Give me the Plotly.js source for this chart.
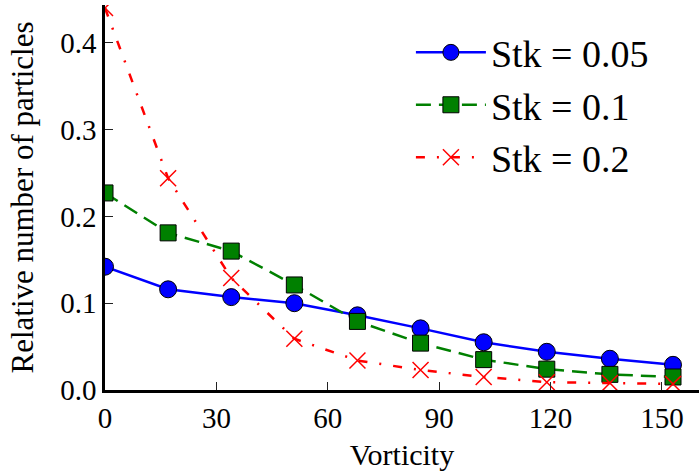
<!DOCTYPE html>
<html>
<head>
<meta charset="utf-8">
<script src="https://cdn.plot.ly/plotly-3.0.1.min.js"></script>
<style>html,body{margin:0;padding:0;background:#fff}#chart{width:700px;height:475px}</style>
</head>
<body>
<div id="chart"></div>
<script>
// Data
var vorticity = [0, 17, 34, 51, 68, 85, 102, 119, 136, 153];
var stk005 = [0.142, 0.116, 0.107, 0.100, 0.086, 0.071, 0.055, 0.044, 0.036, 0.029];
var stk01  = [0.227, 0.181, 0.160, 0.121, 0.079, 0.054, 0.035, 0.024, 0.018, 0.015];
var stk02  = [0.440, 0.244, 0.129, 0.059, 0.034, 0.023, 0.015, 0.009, 0.008, 0.007];
var seriesNames = ['Stk = 0.05', 'Stk = 0.1', 'Stk = 0.2'];
var xTicks = [0, 30, 60, 90, 120, 150];
var yTicks = [0.0, 0.1, 0.2, 0.3, 0.4];

var FONT = 'Liberation Serif';

var traces = [
  {
    x: vorticity, y: stk005, name: seriesNames[0], type: 'scatter', mode: 'lines+markers',
    line: {color: '#0000ff', width: 2.5},
    marker: {symbol: 'circle', size: 17, color: '#0000ff', line: {color: '#000', width: 1}},
    legendgroup: 'a'
  },
  {
    x: vorticity, y: stk01, name: seriesNames[1], type: 'scatter', mode: 'lines+markers',
    line: {color: '#008000', width: 2.5, dash: '15px,8px'},
    marker: {symbol: 'square', size: 16, color: '#008000', line: {color: '#000', width: 1}},
    legendgroup: 'b'
  },
  {
    x: vorticity, y: stk02, name: seriesNames[2], type: 'scatter', mode: 'lines+markers',
    line: {color: '#ff0000', width: 2.5, dash: '9px,12px,2px,12px'},
    marker: {symbol: 'x-thin', size: 16, color: '#ff0000', line: {color: '#ff0000', width: 1.5}},
    legendgroup: 'c'
  }
];

var layout = {
  width: 700, height: 475,
  margin: {l: 105, r: 1, t: 5, b: 85, pad: 0},
  paper_bgcolor: '#fff', plot_bgcolor: '#fff',
  font: {family: FONT, color: '#000', size: 29},
  showlegend: true,
  legend: {
    x: 0.515, xanchor: 'left', y: 0.958, yanchor: 'top',
    bgcolor: 'rgba(0,0,0,0)', borderwidth: 0,
    font: {family: FONT, size: 38, color: '#000'},
    itemwidth: 70, traceorder: 'normal'
  },
  xaxis: {
    range: [0, 160], tickvals: xTicks, ticktext: xTicks.map(String),
    ticks: 'inside', ticklen: 8, tickwidth: 1, tickcolor: '#222',
    showline: true, linecolor: '#000', linewidth: 2.5,
    showgrid: false, zeroline: false, automargin: false,
    tickfont: {family: FONT, size: 29, color: '#000'},
    title: {text: 'Vorticity', font: {family: FONT, size: 30, color: '#000'}, standoff: 12}
  },
  yaxis: {
    range: [0, 0.4435], tickvals: yTicks, ticktext: yTicks.map(function(v){return v.toFixed(1);}),
    ticks: 'inside', ticklen: 8, tickwidth: 1, tickcolor: '#222',
    showline: true, linecolor: '#000', linewidth: 2.5,
    showgrid: false, zeroline: false, automargin: false,
    tickfont: {family: FONT, size: 29, color: '#000'},
    title: {text: 'Relative number of particles', font: {family: FONT, size: 31, color: '#000'}, standoff: 18}
  }
};

Plotly.newPlot('chart', traces, layout, {displayModeBar: false});
</script>
</body>
</html>
